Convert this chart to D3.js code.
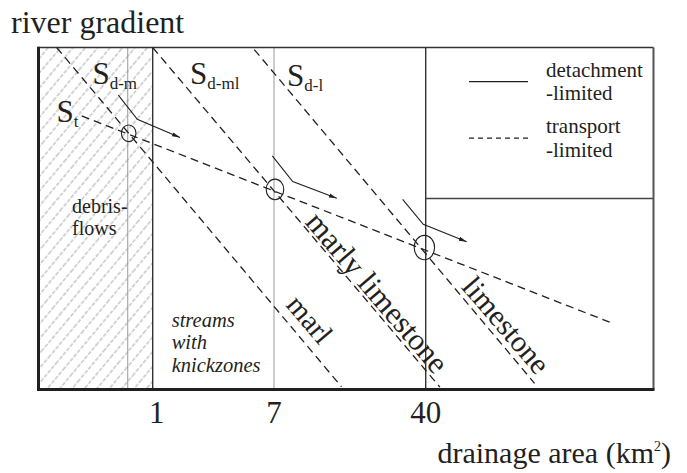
<!DOCTYPE html>
<html>
<head>
<meta charset="utf-8">
<script src="https://cdn.jsdelivr.net/npm/d3@7"></script>
<style>
  body { margin: 0; background: #fff; }
  text { font-family: "Liberation Serif", "Times New Roman", serif; fill: #231f20; }
</style>
</head>
<body>
<div id="chart"></div>
<script>
// drainage area ticks (km2)
var areaTicks = [1, 7, 40];
// thin gray guides and dark boundaries (km2)
var grayLines = [0.67, 7];
var darkLines = [1, 40];
var debrisLimit = 1;

// transport-limited slope S_t : [area, gradient]
var transportLine = [[0.32, 80.0], [332, 19.7]];
// detachment-limited slopes, one per lithology
var lithoNames = ["marl", "marly limestone", "limestone"];
var detachLines = [
  [[0.214, 100], [15.2, 0.8]],
  [[1.0, 100], [47.1, 0.7]],
  [[5.1, 99.4], [140, 1.8]]
];
// circled crossings of S_t with each S_d
var crossings = [[0.68, 74.9], [7.08, 58.5], [39.4, 41.5]];
// switch arrows (detachment -> transport)
var arrows = [
  [[0.576, 86.1], [0.781, 79.0], [1.55, 73.7]],
  [[6.81, 68.3], [8.68, 60.8], [14.4, 55.9]],
  [[30.7, 55.6], [38.9, 48.3], [64.1, 43.2]]
];
var slopeLabels = [
  {sub: "t", x: 0.214, y: 78.1},
  {sub: "d-m", x: 0.38, y: 89.3},
  {sub: "d-ml", x: 1.82, y: 89.3},
  {sub: "d-l", x: 8.13, y: 88.7}
];
var lithoLabelPos = [[10.46, 20.3], [22.7, 28.2], [100, 18.6]];
var legendItems = [
  {lines: ["detachment", "-limited"], dash: null},
  {lines: ["transport", "-limited"], dash: "5,4"}
];

var width = 687, height = 473;
var margin = {top: 47.5, right: 33.5, bottom: 83.5, left: 38.5};

var svg = d3.select("#chart").append("svg")
  .attr("width", width)
  .attr("height", height);

var x = d3.scaleLog()
  .domain([0.16, 1, 7, 40, 550])
  .range([margin.left, 152.7, 274, 425.7, width - margin.right]);
var y = d3.scaleLinear()
  .domain([0, 100])
  .range([height - margin.bottom, margin.top]);

var x0 = margin.left, x1 = width - margin.right;
var y0 = height - margin.bottom, y1 = margin.top;

var defs = svg.append("defs");
var pat = defs.append("pattern")
  .attr("id", "hatch")
  .attr("patternUnits", "userSpaceOnUse")
  .attr("width", 9.5).attr("height", 40)
  .attr("patternTransform", "rotate(40)");
pat.append("line")
  .attr("x1", 1).attr("y1", 0).attr("x2", 1).attr("y2", 40)
  .attr("stroke", "#a8a8a8").attr("stroke-width", 1)
  .attr("stroke-dasharray", "4,1.5");

defs.append("marker")
  .attr("id", "head")
  .attr("markerUnits", "userSpaceOnUse")
  .attr("markerWidth", 9).attr("markerHeight", 6)
  .attr("refX", 8).attr("refY", 3)
  .attr("orient", "auto")
  .append("path")
  .attr("d", "M0,0.9 L8,3 L0,5.1 Z")
  .attr("fill", "#231f20");

// debris-flow hatch
svg.append("rect")
  .attr("x", x0).attr("y", y1)
  .attr("width", x(debrisLimit) - x0)
  .attr("height", y0 - y1)
  .attr("fill", "url(#hatch)");

// guides
svg.selectAll(".gray").data(grayLines).enter().append("line")
  .attr("x1", d => x(d)).attr("x2", d => x(d))
  .attr("y1", y1).attr("y2", y0)
  .attr("stroke", "#9a9a9a").attr("stroke-width", 1);
svg.selectAll(".dark").data(darkLines).enter().append("line")
  .attr("x1", d => x(d)).attr("x2", d => x(d))
  .attr("y1", y1).attr("y2", y0)
  .attr("stroke", "#333").attr("stroke-width", 1.4);

// legend box separator
svg.append("line")
  .attr("x1", x(40)).attr("x2", x1)
  .attr("y1", 198.5).attr("y2", 198.5)
  .attr("stroke", "#444").attr("stroke-width", 1.3);

// frame
svg.append("line").attr("x1", x0).attr("x2", x1).attr("y1", y1).attr("y2", y1)
  .attr("stroke", "#333").attr("stroke-width", 1.6);
svg.append("line").attr("x1", x1).attr("x2", x1).attr("y1", y1).attr("y2", y0)
  .attr("stroke", "#555").attr("stroke-width", 2);
svg.append("line").attr("x1", x0).attr("x2", x0).attr("y1", y1 - 0.8).attr("y2", y0 + 1.5)
  .attr("stroke", "#231f20").attr("stroke-width", 3);
svg.append("line").attr("x1", x0).attr("x2", x1 + 1).attr("y1", y0).attr("y2", y0)
  .attr("stroke", "#231f20").attr("stroke-width", 3);

var line = d3.line().x(d => x(d[0])).y(d => y(d[1]));

// transport-limited and detachment-limited slopes
svg.selectAll(".sd").data(detachLines).enter().append("path")
  .attr("d", line)
  .attr("fill", "none").attr("stroke", "#231f20")
  .attr("stroke-width", 1.3).attr("stroke-dasharray", "8,5");
svg.append("path").attr("d", line(transportLine))
  .attr("fill", "none").attr("stroke", "#231f20")
  .attr("stroke-width", 1.3).attr("stroke-dasharray", "8,5");

// circles
var circleR = [[7.3, 8.3], [8.8, 10.3], [10.2, 12.2]];
svg.selectAll(".cross").data(crossings).enter().append("ellipse")
  .attr("cx", d => x(d[0])).attr("cy", d => y(d[1]))
  .attr("rx", (d, i) => circleR[i][0]).attr("ry", (d, i) => circleR[i][1])
  .attr("fill", "none").attr("stroke", "#231f20").attr("stroke-width", 1.1);

// arrows
svg.selectAll(".arrow").data(arrows).enter().append("path")
  .attr("d", line)
  .attr("fill", "none").attr("stroke", "#231f20")
  .attr("stroke-width", 1.1)
  .attr("marker-end", "url(#head)");

// S labels
var sl = svg.selectAll(".slab").data(slopeLabels).enter().append("text")
  .attr("x", d => x(d.x)).attr("y", d => y(d.y))
  .style("font-size", "31px");
sl.append("tspan").text("S");
sl.append("tspan").attr("dy", 5).style("font-size", "17px").text(d => d.sub);

// lithology labels along the slopes
var lithoSize = ["29px", "31px", "30px"];
svg.selectAll(".litho").data(lithoNames).enter().append("text")
  .attr("transform", (d, i) => "translate(" + x(lithoLabelPos[i][0]) + "," + y(lithoLabelPos[i][1]) + ") rotate(49.5)")
  .attr("text-anchor", "middle")
  .attr("dy", "0.3em")
  .style("font-size", (d, i) => lithoSize[i])
  .text(d => d);

// region notes
var debris = svg.append("text").attr("x", x(0.274)).attr("y", y(51.6)).style("font-size", "20px");
["debris-", "flows"].forEach(function(t, i) {
  debris.append("tspan").attr("x", x(0.274)).attr("dy", i ? 22 : 0).text(t);
});
var streams = svg.append("text").attr("x", x(1.356)).attr("y", y(18.4))
  .style("font-size", "20.5px").style("font-style", "italic");
["streams", "with", "knickzones"].forEach(function(t, i) {
  streams.append("tspan").attr("x", x(1.356)).attr("dy", i ? 22.5 : 0).text(t);
});

// legend
legendItems.forEach(function(item, i) {
  var ly = 81.7 + i * 56.5;
  svg.append("line")
    .attr("x1", 469).attr("x2", 528).attr("y1", ly).attr("y2", ly)
    .attr("stroke", "#231f20").attr("stroke-width", 1.3)
    .attr("stroke-dasharray", item.dash);
  var t = svg.append("text").attr("x", 546).attr("y", ly - 5).style("font-size", "21px");
  item.lines.forEach(function(s, j) {
    t.append("tspan").attr("x", 546).attr("dy", j ? 23.5 : 0).text(s);
  });
});

// x ticks
svg.selectAll(".tick").data(areaTicks).enter().append("text")
  .attr("x", d => x(d)).attr("y", 422.7)
  .attr("dx", d => d === 1 ? 4 : 0)
  .attr("text-anchor", "middle")
  .style("font-size", "31px")
  .text(d => d);

// axis titles
svg.append("text").attr("x", 11).attr("y", 33).style("font-size", "32px").text("river gradient");
var xt = svg.append("text").attr("x", 671).attr("y", 463)
  .attr("text-anchor", "end").style("font-size", "30px");
xt.append("tspan").text("drainage area (km");
xt.append("tspan").attr("dy", -12).style("font-size", "14px").text("2");
xt.append("tspan").attr("dy", 12).text(")");
</script>
</body>
</html>
